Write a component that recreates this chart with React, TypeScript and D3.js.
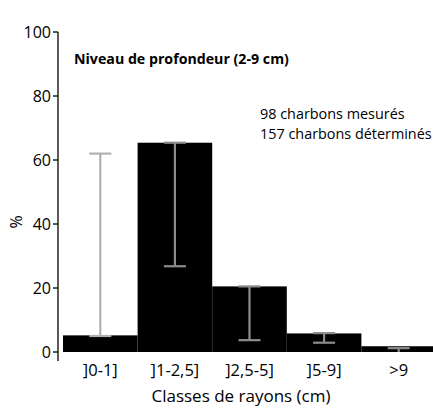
import * as d3 from "d3"

const categories = ["]0-1]", "]1-2,5]", "]2,5-5]", "]5-9]", ">9"]
const values = [5.2, 65.4, 20.5, 5.8, 1.8]
const errLow = [5, 26.8, 3.7, 2.9, 0]
const errHigh = [62, 65.4, 20.5, 5.9, 1.2]
const yTicks = [0, 20, 40, 60, 80, 100]
const notes = ["98 charbons mesurés", "157 charbons déterminés"]

const W = 433
const H = 408
const font = "'Open Sans', 'DejaVu Sans', sans-serif"

export default function App() {
  const x = d3.scaleBand().domain(categories).range([63, 436]).padding(0)
  const y = d3.scaleLinear().domain([0, 100]).range([352, 32])
  const axisX = 58
  const capW = 22

  return (
    <div style={{ position: "absolute", left: 0, top: 0 }}>
      <svg width={W} height={H} style={{ display: "block", background: "#fff" }}>
        {/* barres */}
        {categories.map((c, i) => (
          <rect
            key={c}
            x={x(c)}
            y={y(values[i])}
            width={x.bandwidth()}
            height={y(0) - y(values[i])}
            fill="#000"
          />
        ))}

        {/* barres d'erreur */}
        {categories.map((c, i) => {
          const cx = (x(c) || 0) + x.bandwidth() / 2
          const color = i === 0 ? "#b0b0b0" : "#8c8c8c"
          return (
            <g key={"e" + c} stroke={color} strokeWidth={2.2}>
              <line x1={cx} x2={cx} y1={y(errLow[i])} y2={y(errHigh[i])} />
              <line x1={cx - capW / 2} x2={cx + capW / 2} y1={y(errHigh[i])} y2={y(errHigh[i])} />
              {errLow[i] > 0 && (
                <line x1={cx - capW / 2} x2={cx + capW / 2} y1={y(errLow[i])} y2={y(errLow[i])} />
              )}
            </g>
          )
        })}

        {/* axe y */}
        <line x1={axisX} x2={axisX} y1={y(100)} y2={y(0) + 9} stroke="#000" strokeWidth={1.3} />
        {yTicks.map((t) => (
          <g key={t}>
            <line x1={axisX - 5} x2={axisX} y1={y(t)} y2={y(t)} stroke="#000" strokeWidth={1.3} />
            <text
              x={axisX - 7}
              y={y(t)}
              dy="0.36em"
              textAnchor="end"
              fontFamily={font}
              fontSize={16}
              fill="#000"
            >
              {t}
            </text>
          </g>
        ))}
        <text
          transform={`translate(22,222) rotate(-90)`}
          textAnchor="middle"
          fontFamily={font}
          fontSize={16}
        >
          %
        </text>

        {/* axe x */}
        {categories.map((c) => (
          <text
            key={"l" + c}
            x={(x(c) || 0) + x.bandwidth() / 2}
            y={376}
            textAnchor="middle"
            fontFamily={font}
            fontSize={16.5}
          >
            {c}
          </text>
        ))}
        <text x={241} y={402} textAnchor="middle" fontFamily={font} fontSize={17}>
          Classes de rayons (cm)
        </text>

        {/* titre et notes */}
        <text x={74} y={64} fontFamily={font} fontSize={14.2} fontWeight="bold">
          Niveau de profondeur (2-9 cm)
        </text>
        {notes.map((n, i) => (
          <text key={n} x={260} y={119 + i * 20} fontFamily={font} fontSize={14.4}>
            {n}
          </text>
        ))}
      </svg>
    </div>
  )
}
